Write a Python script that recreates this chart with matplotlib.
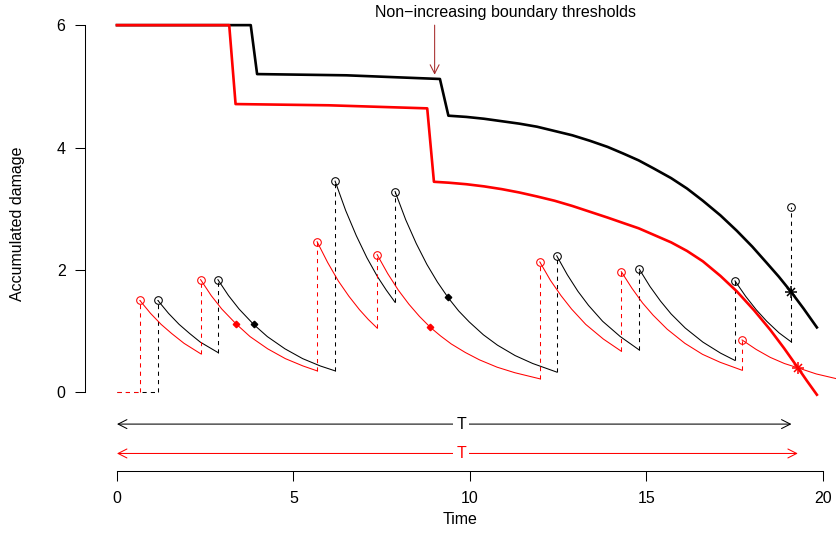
import matplotlib
matplotlib.use('Agg')
import matplotlib.pyplot as plt

plt.rcParams['font.family'] = ['Liberation Sans', 'DejaVu Sans']
plt.rcParams['font.size'] = 11.5

# boundary thresholds (thick lines)
black_thr_t = [0, 3.79, 3.97, 6.5, 9.15, 9.39, 9.9, 10.4, 10.9, 11.4, 11.9, 12.4, 12.9,
               13.4, 13.9, 14.35, 14.78, 15.2, 15.7, 16.15, 16.6, 17.1, 17.56, 18.0,
               18.4, 18.75, 19.1, 19.45, 19.83]
black_thr_y = [6.0, 6.0, 5.20, 5.18, 5.12, 4.52, 4.50, 4.47, 4.43, 4.39, 4.34, 4.27, 4.20,
               4.11, 4.01, 3.90, 3.79, 3.66, 3.50, 3.33, 3.13, 2.89, 2.64, 2.38,
               2.12, 1.89, 1.64, 1.37, 1.06]
red_thr_t = [0, 3.18, 3.36, 6.0, 8.79, 8.98, 9.4, 9.9, 10.4, 10.9, 11.4, 11.9, 12.4,
             12.9, 13.4, 13.9, 14.35, 14.78, 15.2, 15.7, 16.15, 16.6, 17.1, 17.56,
             18.05, 18.51, 18.9, 19.28, 19.55, 19.83]
red_thr_y = [6.0, 6.0, 4.71, 4.69, 4.64, 3.44, 3.425, 3.40, 3.365, 3.32, 3.265, 3.20, 3.13,
             3.045, 2.95, 2.855, 2.765, 2.68, 2.575, 2.45, 2.31, 2.14, 1.90, 1.65,
             1.34, 1.02, 0.72, 0.41, 0.185, -0.04]

# damage jumps: time, level before, level after
black_jump_t = [1.16, 2.86, 6.18, 7.88, 12.46, 14.8, 17.51, 19.11]
black_jump_lo = [0, 0.65, 0.35, 1.47, 0.33, 0.69, 0.52, 0.82]
black_jump_hi = [1.50, 1.84, 3.45, 3.28, 2.23, 2.01, 1.82, 3.02]
red_jump_t = [0.65, 2.37, 5.67, 7.37, 11.98, 14.29, 17.71]
red_jump_lo = [0, 0.63, 0.35, 1.05, 0.22, 0.67, 0.36]
red_jump_hi = [1.50, 1.84, 2.46, 2.25, 2.13, 1.97, 0.855]

# damage recovery between jumps
black_seg_t = [
    [1.16, 1.46, 1.76, 2.06, 2.36, 2.86],
    [2.86, 3.16, 3.46, 3.87, 4.26, 4.76, 5.26, 5.76, 6.18],
    [6.18, 6.48, 6.78, 7.08, 7.38, 7.63, 7.88],
    [7.88, 8.18, 8.48, 8.78, 9.08, 9.39, 9.68, 9.98, 10.38, 10.78, 11.28, 11.78, 12.46],
    [12.46, 12.76, 13.06, 13.36, 13.76, 14.26, 14.8],
    [14.8, 15.1, 15.4, 15.7, 16.1, 16.6, 17.1, 17.51],
    [17.51, 17.81, 18.11, 18.41, 18.76, 19.11],
]
black_seg_y = [
    [1.50, 1.29, 1.11, 0.96, 0.82, 0.65],
    [1.84, 1.58, 1.36, 1.11, 0.91, 0.71, 0.55, 0.43, 0.35],
    [3.45, 2.97, 2.56, 2.20, 1.89, 1.67, 1.47],
    [3.28, 2.82, 2.43, 2.09, 1.80, 1.54, 1.33, 1.15, 0.94, 0.77, 0.60, 0.47, 0.33],
    [2.23, 1.92, 1.65, 1.42, 1.16, 0.91, 0.69],
    [2.01, 1.73, 1.49, 1.28, 1.05, 0.82, 0.64, 0.52],
    [1.82, 1.57, 1.35, 1.16, 0.97, 0.82],
]
red_seg_t = [
    [0.65, 0.95, 1.25, 1.55, 1.9, 2.37],
    [2.37, 2.67, 2.97, 3.37, 3.77, 4.27, 4.77, 5.27, 5.67],
    [5.67, 5.97, 6.27, 6.57, 6.87, 7.12, 7.37],
    [7.37, 7.67, 7.97, 8.27, 8.57, 8.88, 9.17, 9.47, 9.87, 10.27, 10.77, 11.27, 11.98],
    [11.98, 12.28, 12.58, 12.88, 13.28, 13.78, 14.29],
    [14.29, 14.59, 14.89, 15.19, 15.59, 16.09, 16.59, 17.09, 17.71],
    [17.71, 18.11, 18.51, 18.91, 19.29, 19.81, 20.4],
]
red_seg_y = [
    [1.50, 1.29, 1.11, 0.96, 0.80, 0.63],
    [1.84, 1.58, 1.36, 1.12, 0.91, 0.71, 0.55, 0.43, 0.35],
    [2.46, 2.12, 1.82, 1.57, 1.35, 1.19, 1.05],
    [2.25, 1.94, 1.67, 1.44, 1.24, 1.06, 0.92, 0.79, 0.65, 0.53, 0.41, 0.32, 0.22],
    [2.13, 1.83, 1.58, 1.36, 1.11, 0.87, 0.67],
    [1.97, 1.70, 1.46, 1.26, 1.03, 0.80, 0.62, 0.49, 0.36],
    [0.855, 0.70, 0.57, 0.47, 0.40, 0.30, 0.22],
]

# damage level at the threshold drops
black_mark_t = [3.87, 9.39]
black_mark_y = [1.12, 1.55]
red_mark_t = [3.37, 8.88]
red_mark_y = [1.12, 1.06]

# failure points
black_fail = (19.11, 1.64)
red_fail = (19.29, 0.40)

T_black_y = -0.52
T_red_y = -1.0
T_label_x = 9.75

fig = plt.figure(figsize=(8.37, 5.33), dpi=100)
ax = fig.add_axes([85 / 837, 62.4 / 533, 752 / 837, 462.6 / 533])

dash = (0, (4, 4))
for color, jt, lo, hi, seg_t, seg_y in [
        ('black', black_jump_t, black_jump_lo, black_jump_hi, black_seg_t, black_seg_y),
        ('red', red_jump_t, red_jump_lo, red_jump_hi, red_seg_t, red_seg_y)]:
    ax.plot([0, jt[0]], [0, 0], color=color, lw=0.75, ls=dash)
    for t, a, b in zip(jt, lo, hi):
        ax.plot([t, t], [a, b], color=color, lw=0.75, ls=dash)
    for t, y in zip(seg_t, seg_y):
        ax.plot(t, y, color=color, lw=0.75)
    ax.plot(jt, hi, 'o', mfc='none', mec=color, ms=5.5, mew=0.75)

ax.plot(black_mark_t, black_mark_y, 'D', color='black', ms=3.3)
ax.plot(red_mark_t, red_mark_y, 'D', color='red', ms=3.3)

ax.plot(black_thr_t, black_thr_y, color='black', lw=1.9)
ax.plot(red_thr_t, red_thr_y, color='red', lw=1.9)

for (fx, fy), color in [(black_fail, 'black'), (red_fail, 'red')]:
    ax.plot([fx], [fy], '+', color=color, ms=8, mew=1.1)
    ax.plot([fx], [fy], 'x', color=color, ms=6, mew=1.1)

# length of the two runs
for fx, yy, color in [(black_fail[0], T_black_y, 'black'), (red_fail[0], T_red_y, 'red')]:
    ax.annotate('', xy=(0, yy), xytext=(fx, yy),
                arrowprops=dict(arrowstyle='<->,head_length=0.55,head_width=0.28',
                                color=color, lw=0.75, shrinkA=0, shrinkB=0))
    ax.text(T_label_x, yy, 'T', color=color, ha='center', va='center',
            bbox=dict(boxstyle='square,pad=0.2', fc='white', ec='none'))

ax.annotate('', xy=(9.0, 5.19), xytext=(9.0, 6.0),
            arrowprops=dict(arrowstyle='->,head_length=0.55,head_width=0.28',
                            color='#A52A2A', lw=0.75, shrinkA=0, shrinkB=0))
ax.text(11.0, 6.20, 'Non\u2212increasing boundary thresholds', ha='center', va='center')

ax.set_xlim(-0.906, 20.4)
ax.set_ylim(-1.28, 6.28)
for s in ['top', 'right']:
    ax.spines[s].set_visible(False)
ax.spines['left'].set_bounds(0, 6)
ax.spines['bottom'].set_bounds(0, 20)
ax.spines['left'].set_linewidth(0.75)
ax.spines['bottom'].set_linewidth(0.75)
ax.set_xticks([0, 5, 10, 15, 20])
ax.set_yticks([0, 2, 4, 6])
ax.tick_params(axis='both', length=7, width=0.75, labelsize=11.5)
ax.tick_params(axis='x', pad=8)
ax.tick_params(axis='y', pad=7)

fig.text(460 / 837, 1 - 520 / 533, 'Time', ha='center', va='center')
fig.text(18 / 837, 1 - 224 / 533, 'Accumulated damage', rotation=90,
         ha='center', va='center')

fig.savefig('out.png', dpi=100)
